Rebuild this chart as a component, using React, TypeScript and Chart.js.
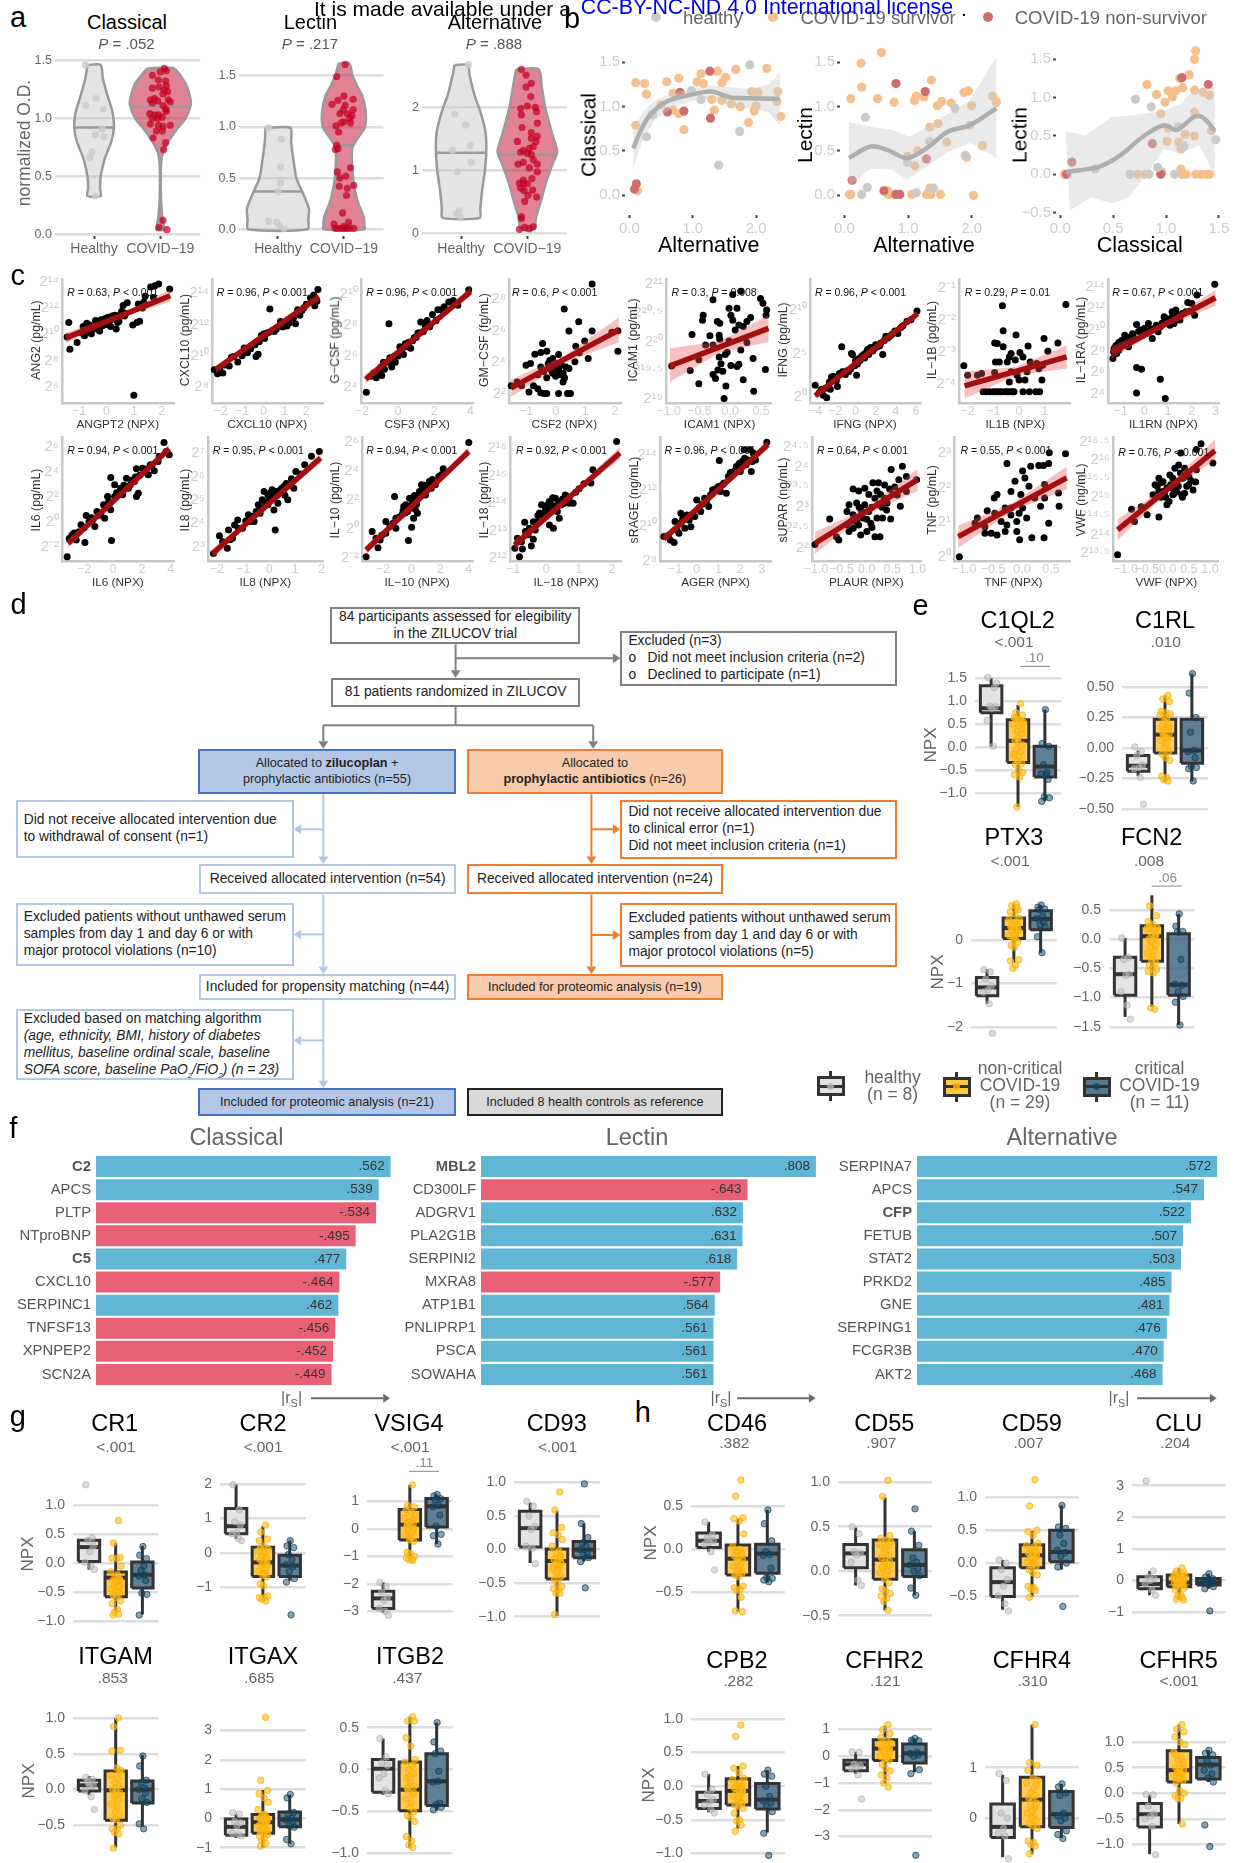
import React, { useEffect, useRef } from 'react';
import { Chart, registerables } from 'chart.js';
Chart.register(...registerables);

const FONT = '"Liberation Sans", Arial, sans-serif';
const GRID = '#dddddd';
const TICK = '#666666';
const LIGHT = '#cdcdcd';

/* ---------- panel a ---------- */
const A_CATS = ['Healthy', 'COVID−19'];
const A1_H = [[.87,1.46],[1.03,1.17],[.87,1.11],[1.14,1.08],[1.12,.91],[1.02,.86],[1.15,.84],[.97,.71],[.93,.66],[1.02,.33]];
const A1_C = [[2.06,1.43],[2,1.4],[2.09,1.41],[1.88,1.37],[1.97,1.33],[2.08,1.32],[1.88,1.26],[1.98,1.27],[2.09,1.28],[2.06,1.24],[2.11,1.23],[2.04,1.21],[1.91,1.17],[1.85,1.16],[1.96,1.15],[2.12,1.16],[2.15,1.14],[1.88,1.13],[2.04,1.11],[1.84,1.04],[1.91,1.03],[1.97,1.03],[2.08,1.08],[2.09,1.06],[1.88,1],[1.96,1],[2.03,1.01],[1.85,.95],[1.97,.94],[2.04,.93],[2.15,.94],[1.94,.89],[2.03,.89],[1.89,.83],[2.08,.79],[2.05,.73],[2.04,.12],[1.98,.06],[2.1,.04]];
const A2_H = [[.86,.99],[1.05,.88],[1.04,.61],[1.04,.45],[1,.37],[.86,.08],[.98,.07],[1.03,.03],[1.09,.01]];
const A2_C = [[2.02,1.61],[1.89,1.49],[1.91,1.26],[2,1.3],[2.14,1.27],[1.82,1.22],[2.02,1.21],[1.99,1.17],[2.14,1.17],[2.05,1.13],[2.12,1.11],[1.94,1.13],[2.09,1.08],[2,1.05],[2.1,1.04],[1.88,1.01],[1.96,1.04],[1.92,.95],[1.89,.82],[1.87,.78],[1.91,.79],[2.1,.6],[1.9,.56],[2.03,.52],[1.94,.5],[1.93,.42],[2.15,.43],[2.05,.4],[2.04,.33],[1.98,.16],[1.85,.05],[2.07,.07],[2,.03],[1.87,.01],[1.91,.01],[1.96,.01],[2,.01],[2.04,.01],[2.09,.01],[2.15,.01]];
const A3_H = [[1.11,2.67],[.9,1.89],[1.07,1.72],[1.14,1.4],[.87,1.32],[1.15,1.13],[.94,.98],[.97,.36],[.93,.32],[.99,.26]];
const A3_C = [[1.91,2.6],[1.98,2.51],[2.06,2.38],[1.98,2.32],[2.05,2.17],[1.9,1.98],[2,2.02],[2.12,2],[2.14,1.93],[1.91,1.88],[2.15,1.75],[1.92,1.68],[2.06,1.6],[2.15,1.54],[2.06,1.51],[1.85,1.46],[2.13,1.46],[2.09,1.38],[2.03,1.35],[1.94,1.32],[1.9,1.29],[2,1.27],[2.06,1.25],[2.09,1.17],[2.15,1.1],[1.94,1.13],[1.86,1.1],[2.03,1.04],[2.15,.98],[2.07,.87],[1.94,.85],[1.88,.8],[1.94,.79],[2,.79],[1.9,.72],[2.08,.69],[1.95,.68],[2.01,.61],[2.14,.58],[1.96,.51],[1.91,.27],[1.91,.24],[1.88,.07],[1.96,.1],[2.03,.08],[2.09,.11]];
// violin outlines: [value, half-width]
const A1_HV = [[1.46,.1],[1.35,.13],[1.2,.2],[1.05,.28],[.92,.3],[.8,.26],[.65,.16],[.5,.1],[.4,.09],[.33,.1]];
const A1_CV = [[1.43,.2],[1.3,.38],[1.2,.44],[1.12,.46],[1,.38],[.9,.24],[.8,.12],[.7,.035],[.6,.01],[.3,.01],[.15,.03],[.08,.05],[.04,.06]];
const A2_HV = [[.99,.19],[.85,.2],[.7,.23],[.5,.28],[.35,.38],[.2,.47],[.1,.46],[0,.45]];
const A2_CV = [[1.62,.08],[1.5,.13],[1.4,.2],[1.3,.28],[1.15,.33],[1,.32],[.9,.22],[.8,.13],[.7,.12],[.55,.13],[.4,.16],[.25,.22],[.12,.3],[.05,.31],[0,.31]];
const A3_HV = [[2.67,.1],[2.5,.13],[2.2,.2],[1.9,.3],[1.6,.37],[1.3,.38],[1,.36],[.7,.32],[.4,.29],[.25,.28]];
const A3_CV = [[2.6,.17],[2.3,.22],[2,.27],[1.6,.37],[1.3,.45],[1.1,.38],[.8,.28],[.5,.2],[.25,.13],[.07,.1]];
const A_MEDIANS = [[.92,.3,1.1,.45],[.37,.38,.82,.13],[1.28,.38,1.25,.45]];

/* ---------- panel b ---------- */
const B1_S = [[.1,1.27],[.24,1.26],[.27,1.14],[.59,1.28],[.78,1.32],[1.13,1.37],[1.39,1.4],[1.52,1.33],[1.68,1.42],[2.17,1.43],[.1,.79],[.5,1.02],[.69,1.15],[.69,.96],[.78,.92],[1.07,1.28],[1.17,1.26],[1.46,1.27],[1.34,.96],[1.3,1.08],[1.46,1.07],[1.61,1.03],[1.75,1],[1.93,1.17],[2.03,1.16],[2.34,1.17],[2.33,1.06],[2.39,.89],[1.88,.82],[1.97,.95],[2,1.01],[.86,.74],[.13,.05]];
const B1_H = [[.27,.66],[.98,1.18],[1.13,1.08],[1.74,.72],[1.9,1.47],[1.41,.34],[.37,.91]];
const B1_N = [[1.27,1.4],[.8,1.16],[.6,.94],[.86,.95],[1.28,.87],[.08,.07],[.11,.13]];
const B1_LINE = [[.06,.53],[.2,.76],[.33,.91],[.6,1.06],[.95,1.13],[1.29,1.17],[1.52,1.12],[1.63,1.1],[2.37,1.09]];
const B1_UP = [[.06,.72],[.2,.93],[.4,1.07],[.7,1.16],[1,1.2],[1.3,1.24],[1.6,1.22],[1.9,1.2],[2.2,1.25],[2.38,1.39]];
const B1_LO = [[.06,.3],[.2,.6],[.4,.85],[.7,1],[1,1.06],[1.3,1.1],[1.6,1],[1.9,.98],[2.2,.93],[2.38,.79]];
const B2_S = [[.1,1.09],[.26,1.49],[.27,1.22],[.58,1.61],[.52,1.09],[.78,1.05],[1.1,1.07],[1.13,1.12],[1.25,1.11],[1.37,1.3],[1.46,1.01],[1.53,1.06],[1.68,1.04],[1.88,1.16],[1.95,1.18],[2,1.01],[2.33,1.12],[2.39,1.05],[1.34,.77],[1.47,.81],[1.97,.79],[1.61,.6],[1.15,.5],[.99,.44],[1.11,.33],[1.92,.43],[2.17,.56],[.08,.01],[.1,.01],[.68,.05],[.69,.01],[.78,.01],[1.06,.01],[1.29,.01],[1.36,.01],[1.34,.08],[1.51,.01],[2.03,0]];
const B2_H = [[.27,.01],[.36,.09],[.33,.88],[.99,.37],[1.13,.03],[1.4,.08],[1.34,.61],[1.74,.98],[1.9,.45]];
const B2_N = [[.12,.17],[.81,1.26],[1.27,1.17],[.62,.05],[.87,.01],[1.29,.41],[.81,.01]];
const B2_LINE = [[.07,.42],[.41,.55],[.68,.51],[.98,.42],[1.29,.53],[1.63,.72],[1.97,.79],[2.39,.98]];
const B2_UP = [[.07,.83],[.41,.77],[.75,.74],[1.02,.66],[1.29,.77],[1.63,.92],[1.97,1.07],[2.39,1.56]];
const B2_LO = [[.07,.1],[.41,.3],[.75,.29],[.98,.17],[1.29,.32],[1.63,.49],[1.97,.59],[2.39,.42]];
const B3_S = [[.04,0],[.73,0],[.8,0],[.96,.03],[1.14,.07],[1.15,0],[1.19,0],[1.28,0],[1.33,0],[1.38,0],[1.41,0],[.82,1.17],[.91,1.04],[.95,.79],[.99,.94],[1.02,1.09],[1.06,1.01],[1.09,1.09],[1.13,1.25],[1.16,1.13],[1.22,1.3],[1.27,1.5],[1.28,1.61],[1.27,1.1],[1.35,1.07],[1.41,1.03],[1.27,.81],[1.43,.57],[1.27,.5],[1.18,.52],[1.12,.42],[1.01,.43],[1.14,.33],[1.02,.6]];
const B3_H = [[.71,.98],[.86,.88],[.92,.09],[.66,0],[.84,0],[1.08,0],[1.12,.62],[1.17,.37],[1.47,.45],[.33,.07]];
const B3_N = [[.11,.16],[.06,0],[.95,0],[.87,.4],[1.15,1.26],[1.4,1.17]];
const B3_LINE = [[.05,.03],[.37,.1],[.57,.25],[.78,.49],[.98,.64],[1.1,.58],[1.27,.75],[1.35,.74],[1.46,.57]];
const B3_UP = [[.05,.56],[.24,.51],[.49,.75],[.69,.77],[.98,.83],[1.14,.92],[1.27,1.1],[1.46,1.14]];
const B3_LO = [[.09,-.47],[.29,-.3],[.49,-.38],[.65,-.3],[.82,.01],[.98,.33],[1.14,.27],[1.31,.38],[1.46,0]];

/* ---------- panel c ---------- */
const ANG2 = [[-1.37,10.9],[-1.43,9.8],[-1.33,8.87],[-1.07,9.38],[-.9,10.1],[-.85,10.6],[-.8,9.9],[-.72,10.85],[-.65,10.3],[-.6,10.7],[-.55,10.05],[-.5,10.5],[-.4,11.05],[-.35,10.4],[-.3,10.8],[-.25,10.25],[-.2,11.1],[-.15,10.65],[-.1,10.9],[-.05,11.2],[0,10.75],[.05,11.3],[.1,11],[.15,10.6],[.2,11.4],[.25,11.15],[.3,11.45],[.35,10.4],[.4,10.9],[.45,11],[.5,11.5],[.55,11.75],[.6,12.2],[.65,11.4],[.7,11.6],[.75,12.4],[.99,5.37],[.95,10.7],[1.1,10.9],[1.15,12.3],[1.2,11],[1.25,12.15],[1.3,12],[1.35,12.45],[1.4,12.9],[1.6,13.6],[1.75,13.7],[1.89,13.82],[2.29,13.44],[1.7,12.8]];
const CXCL10 = [[-2.3,9.1],[-2.15,8.85],[-2.05,9.2],[-1.9,8.9],[-1.8,9.4],[-1.6,9.35],[-1.5,9.9],[-1.4,9.95],[-1.2,9.6],[-1,10],[-.9,10.5],[-.75,10.2],[-.6,10.45],[-.4,10.7],[-.35,9.95],[-.25,10.1],[-.2,10.9],[-.1,11.3],[0,11.4],[.05,11.1],[.15,11.45],[.25,11.5],[.3,13],[.4,11.6],[.5,11.55],[.6,11.7],[.8,12.2],[.9,11.85],[1,12],[1.1,11.9],[1.2,12.1],[1.4,12.4],[1.5,12.05],[1.6,12.95],[1.7,12.6],[1.8,12.9],[1.9,13.1],[2,13.3],[2.2,13.7],[2.35,13.9],[2.5,13.5],[2.55,14.25],[2.4,13.2]];
const CSF3 = [[-1.75,3.65],[-1.5,4.7],[-1.35,4.9],[-1.2,4.6],[-1.05,5],[-.95,5.3],[-.8,5.6],[-.75,5.15],[-.6,5.6],[-.5,8.1],[-.45,5.9],[-.35,5.3],[-.3,5.7],[-.2,6],[-.15,5.6],[0,6],[.1,6.6],[.2,6.4],[.3,6.1],[.4,6.8],[.5,6.6],[.6,6.9],[.7,6.5],[.8,7],[.9,7.2],[1,7.2],[1.2,7.5],[1.25,8.2],[1.4,7.6],[1.5,8],[1.6,8.3],[1.75,7.9],[1.9,8.7],[2.1,8.3],[2.2,9],[2.4,9],[2.55,9.2],[2.8,9.5],[3.05,9.6],[3.3,9.3],[3.9,10.3],[-.9,4.75],[1.1,7.5]];
const CSF2 = [[1.23,8.98],[.29,7.38],[.78,6.57],[.45,5.98],[1.23,5.98],[-.44,5.19],[.98,5.34],[.68,5.02],[1.1,4.23],[-.7,4.51],[-1,3.81],[-.85,3.91],[-.5,4.62],[-.3,4.7],[-.1,4.23],[.1,4.49],[.45,3.6],[.65,4.02],[-1.5,2.5],[-1.3,2.74],[-1.15,2.5],[-.9,2.1],[-.75,2.5],[-.6,2.3],[-.5,2.06],[-.4,2],[-.3,2],[.1,2],[.4,2],[.5,2],[.25,2.74],[-.6,3.2],[-.5,3.7],[-.4,3.4],[-.3,3],[-.25,3.9],[-.2,4.1],[-.15,3.5],[-.1,3.3],[-.05,3.7],[0,3.1],[.05,3.9],[.1,3.5],[.15,3.2],[.2,3.8],[.25,3.3],[.3,3],[.35,3.7],[.8,4.6],[1.9,5.9],[2.1,6],[2.1,4.7]];
const ICAM1 = [[.17,20.88],[-.28,20.73],[.04,20.82],[.49,20.75],[.53,20.67],[-.02,20.58],[.11,20.58],[.59,20.55],[.58,20.46],[-.44,20.46],[-.45,20.37],[.01,20.46],[.33,20.42],[-.21,20.35],[-.17,20.32],[.04,20.37],[.27,20.35],[.14,20.29],[.21,20.26],[-.62,20.12],[-.33,20.1],[-.18,20.11],[.08,20.2],[-.17,20.04],[-.02,20.01],[.27,19.98],[-.28,19.94],[-.4,19.94],[.17,19.85],[-.05,19.81],[-.18,19.73],[-.51,19.68],[-.15,19.61],[.01,19.58],[.14,19.6],[.37,19.7],[-.95,19.57],[-.65,19.49],[-.2,19.5],[-.12,19.48],[.57,19.51],[-.28,19.42],[-.24,19.35],[.21,19.33],[-.51,19.26],[-.07,19.22],[.38,19.13],[-.1,19],[-.08,19.77],[.11,19.56]];
const IFNG = [[-4,1.35],[-3.6,.5],[-3.2,.2],[-2.86,-.08],[-3,1],[-2.8,1.1],[-2.5,.9],[-2.4,2.3],[-2.2,2.4],[-2,2],[-1.8,1.2],[-1.6,2.7],[-1.3,2.9],[-1,2.6],[-.9,3],[-.5,3.2],[-.1,3.6],[.1,2.5],[.2,3.8],[-.4,5],[0,4.2],[-.3,4.9],[.3,4.4],[.6,4.7],[.9,4.5],[1,5],[1.2,5.5],[1.4,5.3],[1.5,5.7],[1.7,5.3],[1.9,5.6],[2,6],[2.2,5.8],[2.4,5.9],[2.7,4.9],[3,7],[3.2,6.8],[3.6,7.2],[3.9,7.6],[4.2,7.3],[4.5,8],[5.1,8.7],[5.5,8.9],[6.1,9.9],[-1.37,5.77],[-3.4,.9],[-2.6,1.7],[-1.9,1.9],[-.7,2.9],[.45,4.2],[.8,4.9],[1.1,5.2],[1.6,5.4],[2.5,6.2],[2.85,6.5],[3.4,7],[1.3,4.9],[4.7,8.2]];
const IL1B = [[-.65,-1.55],[1.82,-1.51],[-.62,-2.34],[-.12,-2.47],[.97,-2.58],[1.51,-2.72],[-.95,-2.72],[-.85,-2.74],[-.62,-2.84],[.35,-2.82],[1.12,-2.98],[-.31,-3.05],[.03,-3.02],[-.38,-3.16],[.15,-3.16],[-.92,-3.32],[-.77,-3.32],[-.46,-3.32],[-.15,-3.26],[.43,-3.32],[.69,-3.37],[.92,-3.42],[-2.15,-3.44],[-2,-3.74],[-1.46,-3.68],[-1.62,-3.74],[-.95,-3.65],[-.31,-3.63],[-.08,-3.74],[.31,-3.63],[.77,-3.53],[0,-3.89],[.23,-3.89],[-.38,-3.95],[.89,-3.89],[-1.4,-4.26],[-1.3,-4.26],[-1.15,-4.26],[-1,-4.26],[-.9,-4.26],[-.8,-4.26],[-.7,-4.26],[-.55,-4.26],[-.45,-4.26],[-.35,-4.26],[-.25,-4.26],[-.2,-4.26],[.15,-4.26],[.4,-4.26],[.65,-4.26],[.8,-4.26]];
const IL1RN = [[2.97,14.22],[2.22,13.22],[1.83,12.53],[2,12.44],[2.12,11.34],[-.33,6.44],[-.12,6.28],[.67,5.34],[-.33,4.06],[.88,3.53],[-1.33,7.28],[-1.28,8.22],[-1.08,8.78],[-1.17,7.75],[-.83,9.47],[-.58,9.31],[-.67,8.38],[-.33,10.47],[-.17,9.94],[.17,10.56],[.08,9.63],[.42,10.09],[.67,10.25],[.83,11.19],[1,10.88],[1.25,10.56],[1.33,11.81],[1.75,11.66],[.33,9.16],[-.42,9.16],[-.92,8.53],[.58,9.78],[1.08,10.4],[1.5,10.88],[-.08,9.47],[.92,11.03],[1.17,11.66],[-1.08,8.06],[-1.2,8.5],[-.95,9],[-.75,9.1],[-.5,9.6],[-.25,9.8],[0,10.1],[.25,10],[.5,10.4],[.75,10.6],[1.15,11.1],[1.4,11.3],[1.6,11.5],[1.9,11.7],[-1.3,7.9]];
const IL6 = [[-3.18,-2.8],[-3.04,-1.34],[-1.95,-1.66],[-.11,-1.5],[-2.55,-1.46],[-2.22,-.26],[-1.86,.48],[-1.26,-.4],[-1.12,.8],[-.66,1.34],[-.58,.26],[-.16,.94],[-.38,2],[-.16,3.52],[.11,2.94],[.52,2.66],[.38,2.14],[.93,3.46],[1.2,2.94],[1.75,2.26],[1.62,2],[1.62,4.22],[2.03,4.26],[2.44,3.74],[2.85,4.06],[3.12,4.8],[3.53,6.32],[3.89,5.34],[-2.85,-1.06],[-2.36,-.8],[-1.67,0],[-.85,.66],[-.3,1.6],[.66,2.14],[1.07,2.66],[1.48,3.2],[2.16,4],[2.58,4.54],[3.67,5.6],[-1.4,.14],[.11,2],[-2.7,-.9],[-2,-.5],[-1.5,.3],[-.95,.5],[-.5,1.1],[-.2,1.5],[.25,2.3],[.75,2.9],[1.3,3.3],[1.55,3.55],[1.85,3.7],[2.3,4.2],[2.7,4.5],[3.2,5.2],[.5,2.4]];
const IL8 = [[-2.14,2.71],[-1.91,3.47],[-1.61,2.93],[-1.56,3.71],[-1.41,3.36],[-1.21,4.14],[-1.03,3.79],[-.8,4.36],[-.58,4.07],[-.35,4.43],[-.27,5],[-.05,5.21],[.18,4.57],[.23,3.71],[.33,4.86],[.48,5.5],[.71,5],[.94,5.5],[1.02,6.21],[1.36,6.5],[1.62,6.86],[1.92,7.07],[-.2,5.36],[-.42,4.79],[.11,5.43],[.26,5.36],[.56,5.57],[.18,5.07],[-.73,4.07],[-1.18,3.79],[-.05,4.79],[.79,5.64],[-1.33,3.93],[-1.79,3.21],[-.9,4.1],[-.65,4.3],[-.5,4.5],[-.15,4.9],[0,5],[.05,5.3],[.3,5.2],[.4,5.4],[.6,5.2],[.65,5.7],[-.3,4.65],[-1.5,3.3],[1.2,6.1],[.85,5.9]];
const IL10 = [[-3.18,-1.89],[-2.76,-.17],[-2.35,-1.27],[-1.8,.51],[-1.19,2.23],[-.22,-.79],[0,.13],[-1.1,.06],[-.41,1.66],[.28,2],[.69,3.03],[1.38,2.8],[2.21,4.13],[4,5.93],[-2.49,-.63],[-2.07,-.4],[-1.52,.17],[-.69,.97],[-.28,1.2],[.14,1.66],[.41,1.09],[-.14,2.11],[.55,2.57],[.97,2.34],[1.24,3.26],[1.66,3.03],[2.07,3.71],[-1.1,.74],[.14,.74],[-.55,1.54],[.83,2.8],[-1.8,-.29],[-2.2,-.75],[-1.3,.4],[-.9,.8],[-.45,1.1],[-.1,1.45],[.05,1.75],[.2,2.3],[.35,1.7],[.5,2.2],[.7,2.35],[.9,3],[1.1,2.9],[1.45,3.4],[1.9,3.6],[-.6,1.25],[.25,1.35]];
const IL18 = [[-.95,12.36],[-.81,12.06],[-.72,12.34],[-.45,12.45],[-.39,12.69],[-.87,12.73],[-.63,12.97],[-.65,13.31],[-.39,13.33],[-.2,13.64],[-.14,13.94],[.1,14.06],[.22,13.09],[.1,13.21],[.4,13.45],[-.08,13.45],[-.27,13.33],[.28,14.18],[.58,14.3],[.82,14],[1,14.52],[1.36,14.73],[1.42,15.21],[2.14,16.24],[.46,13.94],[.16,13.7],[.34,13.7],[-.51,13.09],[-.33,13.03],[.7,14.18],[.04,13.94],[-.02,13.76],[.7,14],[-.25,13.55],[-.1,13.6],[0,13.55],[.05,13.8],[.15,13.95],[.2,14.2],[.25,13.9],[.3,13.85],[.38,14.05],[.5,14.15],[.55,14],[.62,14.25],[-.55,12.85],[-.75,12.6],[.9,14.4],[1.15,14.7]];
const AGER = [[-1.51,9.38],[-1.22,9.19],[-1.04,9.04],[-1,10.23],[-.73,10.7],[-.55,9.85],[-.27,9.94],[0,11.45],[.18,10.79],[.55,11.08],[.73,12.02],[1.04,13.68],[1.36,11.83],[1.45,12.77],[1.82,13.34],[2.09,13.62],[2.18,14.28],[2.51,13.06],[2.45,14.28],[3.22,14.7],[-.82,9.57],[-.64,10.42],[-.45,10.6],[-.09,10.51],[.36,11.55],[.91,12.11],[1.18,12.3],[1.64,12.87],[2,13.06],[2.27,13.43],[.64,11.74],[1.09,11.92],[-.91,9.75],[2.55,13.62],[-1.3,9.45],[-.7,10.2],[-.35,10.3],[-.2,10.6],[.1,11],[.25,11.2],[.45,11.4],[.75,11.9],[1,12.2],[1.25,12.4],[1.55,13],[1.75,13.1],[1.95,13.5],[2.2,13.8],[2.35,13.7],[2.6,14.1],[2.7,13.7]];
const PLAUR = [[-1.02,2.08],[-.73,2.71],[-.6,2.27],[-.55,2.19],[-.35,3.06],[-.39,2.89],[-.35,2.4],[-.27,3.45],[-.16,3.4],[-.12,2.31],[.16,2.27],[.26,2.27],[-.04,3.47],[.12,3.6],[.23,3.6],[.35,3.55],[.48,3.93],[.7,4.01],[.63,3.68],[.78,3.76],[.98,3.68],[.78,3.39],[.66,3.02],[.47,2.71],[-.2,2.64],[-.08,2.73],[.04,2.89],[.16,3.22],[.27,3.31],[-.27,2.81],[-.2,3.1],[-.04,3.06],[.08,2.6],[.23,3.06],[.39,2.93],[.2,2.73],[.31,2.73],[-.27,2.48],[.04,3.31],[-.16,2.56],[0,2.4],[.35,3.22],[.51,3.31],[-.39,2.56],[-.1,2.9],[0,2.7],[.1,3],[.2,3.4],[.3,3],[.4,3.1],[.55,3.5],[.6,3.3],[-.3,2.65],[-.15,3],[.45,3.45],[.1,2.5]];
const TNF = [[-1.08,0],[-.77,1.12],[-.81,.97],[-.6,1.33],[-.64,.87],[-.64,.68],[-.53,.68],[-.43,1.8],[-.48,1.7],[-.43,.63],[-.29,.73],[-.19,1.89],[-.26,2.7],[-.12,2.18],[.01,2.48],[.05,2.28],[.15,2.62],[.29,2.64],[.37,2.64],[.46,2.7],[.47,3.01],[.75,2.98],[-.04,.49],[.17,.55],[.38,.55],[.46,.97],[.64,1.46],[.63,1.84],[.39,2.09],[.12,2.04],[.32,1.46],[.08,1.12],[-.09,1.02],[-.19,1.21],[-.36,1.02],[-.09,.73],[-.29,1.41],[-.02,1.8],[.22,1.7],[.01,1.41],[-.19,1.41],[-.05,1.26],[.39,1.7],[-.47,1.26],[-.26,.92]];
const VWF = [[-1.19,13.46],[-.86,14.68],[-.79,14.35],[-.63,14.75],[-.49,14.53],[-.21,14.47],[-.35,15.07],[-.3,15.34],[-.21,15.51],[-.11,15.42],[-.02,14.8],[.03,14.89],[.12,15.07],[-.07,15.16],[-.16,15],[.17,15.78],[.26,15.87],[.31,16.19],[.4,15.78],[.33,15.07],[.4,15.11],[.68,15.74],[.66,15.41],[.79,16.44],[.68,16.28],[1.07,15.92],[.21,15.42],[.07,15.34],[-.02,15.25],[.5,15.34],[.36,15.51],[.12,15.51],[-.11,15.16],[.21,15.16],[.5,15.56],[-.21,15.16],[-.05,15],[.05,15.6],[.1,15.25],[.15,15.1],[.25,15.3],[.3,15.65],[.45,15.3],[.55,15.45],[-.15,15.4],[-.25,15.3],[.35,15],[.6,15.2]];

// [x, lower, upper] confidence band
const C_BANDS = {
  ANG2:[[-1.47,9.33,10.13],[.42,11.18,11.48],[2.31,12.48,13.38]], CXCL10:[[-2.22,8.88,9.38],[.19,11.35,11.55],[2.6,13.53,14.03]],
  CSF3:[[-1.79,4.2,4.8],[1.1,7.23,7.43],[4,9.87,10.47]], CSF2:[[-1.5,1.8,2.9],[.31,3.98,4.42],[2.13,5.25,6.85]],
  ICAM1:[[-.98,19.29,19.88],[-.18,19.8,20],[.62,19.99,20.46]], IFNG:[[-4,-.18,.42],[1.08,4.76,4.96],[6.16,9.3,9.9]],
  IL1B:[[-2.12,-4.47,-3.63],[-.13,-3.75,-3.48],[1.85,-3.53,-2.79]], IL1RN:[[-1.38,7.3,8.4],[.81,10.2,10.6],[3,12.2,13.7]],
  IL6:[[-3.12,-2.08,-1.4],[.39,1.92,2.16],[3.89,5.48,6.16]], IL8:[[-2.17,2.5,2.9],[-.1,4.67,4.83],[1.97,6.58,7]],
  IL10:[[-3.18,-1.75,-1.13],[.41,1.82,2.06],[4,5,5.62]], IL18:[[-.96,12.28,12.68],[.64,14.07,14.23],[2.24,15.6,16.05]],
  AGER:[[-1.51,9,9.5],[.88,11.83,11.99],[3.27,14.32,14.82]], PLAUR:[[-1.02,1.85,2.38],[-.01,2.82,2.98],[1,3.4,3.95]],
  TNF:[[-1.1,.25,.9],[-.17,1.31,1.55],[.77,1.95,2.6]], VWF:[[-1.19,13.85,14.42],[-.03,15.11,15.27],[1.12,16,16.55]],
};
const C_LINES = {
  ANG2:[[-1.47,9.73],[2.31,12.93]], CXCL10:[[-2.22,9.13],[2.6,13.78]], CSF3:[[-1.79,4.5],[4,10.17]], CSF2:[[-1.5,2.36],[2.13,6.04]],
  ICAM1:[[-.98,19.57],[.62,20.23]], IFNG:[[-4,.12],[6.16,9.6]], IL1B:[[-2.12,-4.07],[1.85,-3.16]], IL1RN:[[-1.38,7.84],[3,12.97]],
  IL6:[[-3.12,-1.74],[3.89,5.82]], IL8:[[-2.17,2.71],[1.97,6.79]], IL10:[[-3.18,-1.43],[4,5.31]], IL18:[[-.96,12.48],[2.24,15.82]],
  AGER:[[-1.51,9.25],[3.27,14.57]], PLAUR:[[-1.02,2.11],[1,3.68]], TNF:[[-1.1,.58],[.77,2.28]], VWF:[[-1.19,14.13],[1.12,16.25]],
};
const RT = 279, RB = 402.7, R2T = 437.3, R2B = 561;
const C_PANELS = [
  {k:'ANG2',pts:ANG2,yl:'ANG2 (pg/mL)',xl:'ANGPT2 (NPX)',r:'0.63',p:'< 0.001',L:62,R:174,T:RT,B:RB,xc:[-1,79,2,161.7],yc:[14,281.7,6,386.7],xt:[-1,0,1,2],yt:[14,12,10,8,6],rx:67.2,yx:35.6,xx:117.8},
  {k:'CXCL10',pts:CXCL10,yl:'CXCL10 (pg/mL)',xl:'CXCL10 (NPX)',r:'0.96',p:'< 0.001',L:211.5,R:323.4,T:RT,B:RB,xc:[-2,220.2,2,305.7],yc:[14,293.3,8,386.7],xt:[-2,-1,0,1,2],yt:[14,12,10,8],rx:216.7,yx:184.7,xx:267.3},
  {k:'CSF3',pts:CSF3,yl:'G−CSF (pg/mL)',xl:'CSF3 (NPX)',r:'0.96',p:'< 0.001',L:361,R:473,T:RT,B:RB,xc:[-2,361.8,4,470.5],yc:[10,294.3,4,386.7],xt:[-2,0,2,4],yt:[10,8,6,4],rx:366.2,yx:334.5,xx:417.2},
  {k:'CSF2',pts:CSF2,yl:'GM−CSF (fg/mL)',xl:'CSF2 (NPX)',r:'0.6',p:'< 0.001',L:509,R:621,T:RT,B:RB,xc:[-1,526,2,614.9],yc:[8,299.3,2,393.3],xt:[-1,0,1,2],yt:[8,6,4,2],rx:512,yx:483.6,xx:564.3},
  {k:'ICAM1',pts:ICAM1,yl:'ICAM1 (pg/mL)',xl:'ICAM1 (NPX)',r:'0.3',p:'= 0.008',L:666,R:771.4,T:RT,B:RB,xc:[-1,668.6,.5,761.1],yc:[21,284.3,19,398.3],xt:[-1,-.5,0,.5],xd:1,yt:[21,20.5,20,19.5,19],rx:671.4,yx:632.6,xx:719.6},
  {k:'IFNG',pts:IFNG,yl:'IFNG (pg/mL)',xl:'IFNG (NPX)',r:'0.96',p:'< 0.001',L:809.7,R:921,T:RT,B:RB,xc:[-4,814.9,6,915.7],yc:[10,310,0,396.7],xt:[-4,-2,0,2,4,6],yt:[10,5,0],rx:814.9,yx:782.9,xx:865},
  {k:'IL1B',pts:IL1B,yl:'IL−1B (pg/mL)',xl:'IL1B (NPX)',r:'0.29',p:'= 0.01',L:959.2,R:1070.7,T:RT,B:RB,xc:[-2,967.9,1,1045],yc:[-1,288.3,-4,383.3],xt:[-2,-1,0,1],yt:[-1,-2,-3,-4],rx:964.8,yx:932.3,xx:1015.4},
  {k:'IL1RN',pts:IL1RN,yl:'IL−1RA (pg/mL)',xl:'IL1RN (NPX)',r:'0.67',p:'< 0.001',L:1107.5,R:1219,T:RT,B:RB,xc:[-1,1120.2,3,1215],yc:[14,286.7,4,393.3],xt:[-1,0,1,2,3],yt:[14,12,10,8,6,4],rx:1112.2,yx:1080.6,xx:1163.3},
  {k:'IL6',pts:IL6,yl:'IL6 (pg/mL)',xl:'IL6 (NPX)',r:'0.94',p:'< 0.001',L:62,R:174,T:R2T,B:R2B,xc:[-2,84.2,4,170.8],yc:[6,446.7,-2,546.7],xt:[-2,0,2,4],yt:[6,4,2,0,-2],rx:67.2,yx:35.6,xx:117.8},
  {k:'IL8',pts:IL8,yl:'IL8 (pg/mL)',xl:'IL8 (NPX)',r:'0.95',p:'< 0.001',L:207.6,R:323.4,T:R2T,B:R2B,xc:[-2,216.7,2,321],yc:[7,453.3,3,546.7],xt:[-2,-1,0,1,2],yt:[7,6,5,4,3],rx:212.7,yx:184.7,xx:265.3},
  {k:'IL10',pts:IL10,yl:'IL−10 (pg/mL)',xl:'IL−10 (NPX)',r:'0.94',p:'< 0.001',L:361.8,R:473,T:R2T,B:R2B,xc:[-2,382.8,4,468.6],yc:[6,441.7,-2,558.3],xt:[-2,0,2,4],yt:[6,4,2,0,-2],rx:366.2,yx:335.3,xx:417.2},
  {k:'IL18',pts:IL18,yl:'IL−18 (pg/mL)',xl:'IL−18 (NPX)',r:'0.92',p:'< 0.001',L:510,R:621,T:R2T,B:R2B,xc:[-1,513.2,2,612],yc:[16,448.3,12,558.3],xt:[-1,0,1,2],yt:[16,15,14,13,12],rx:516,yx:484.4,xx:566.2},
  {k:'AGER',pts:AGER,yl:'sRAGE (ng/mL)',xl:'AGER (NPX)',r:'0.96',p:'< 0.001',L:660.3,R:771.4,T:R2T,B:R2B,xc:[-1,675.3,3,762.3],yc:[14,455,8,561],xt:[-1,0,1,2,3],yt:[14,12,10,8],rx:664.6,yx:633.8,xx:715.6},
  {k:'PLAUR',pts:PLAUR,yl:'sUPAR (ng/mL)',xl:'PLAUR (NPX)',r:'0.64',p:'< 0.001',L:811.7,R:921,T:R2T,B:R2B,xc:[-1,815.7,1,917.3],yc:[4.5,446.7,2,547.7],xt:[-1,-.5,0,.5,1],xd:1,yt:[4.5,4,3.5,3,2.5,2],rx:816.9,yx:783.3,xx:866.3},
  {k:'TNF',pts:TNF,yl:'TNF (pg/mL)',xl:'TNF (NPX)',r:'0.55',p:'< 0.001',L:954,R:1070.7,T:R2T,B:R2B,xc:[-1,964,.5,1051],yc:[3,453.3,0,556.7],xt:[-1,-.5,0,.5],xd:1,yt:[3,2,1,0],rx:960.4,yx:932.3,xx:1013.4},
  {k:'VWF',pts:VWF,yl:'VWF (ng/mL)',xl:'VWF (NPX)',r:'0.76',p:'< 0.001',L:1113.4,R:1219,T:R2T,B:R2B,xc:[-1,1126,1,1210.3],yc:[16.5,441.7,13.5,553.3],xt:[-1,-.5,0,.5,1],xd:1,yt:[16.5,16,15.5,15,14.5,14,13.5],rx:1118.2,yx:1080.6,xx:1166.4},
];

/* ---------- panels e, g, h: [q1, median, q3, lower whisker, upper whisker] per group ---------- */
const JIT_H = [-.12,.12,-.05,.16,.03,-.15,.08,.2];
const JIT_N = [.1,-.08,.17,-.14,.04,.2,-.18,.07,-.03,.13,-.11,.01,.16,-.06,.09,-.16,.05,-.01,.14,-.1,.02,.18,-.13,.06,-.04,.11,-.09,.15,.0];
const JIT_C = [.02,-.1,.15,-.05,.08,-.14,.12,-.02,.17,-.12,.05];

const C1QL2_BOX = [[.75,.85,1.34,.01,1.5],[-.33,.14,.6,-1.3,.92],[-.65,-.42,.02,-1.18,.82]];
const C1QL2_PTS = [[1.52,1.3,.9,.88,.85,.58,.02,1.4],[.95,.75,.7,.65,.6,.55,.5,.45,.35,.3,.15,.1,.05,-.05,-.1,-.15,-.2,-.3,-.35,-.38,-.5,-.55,-.6,-.65,-1.3,.58,.62,.4,.2],[.82,.08,.02,-.38,-.55,-.58,-.7,-1.08,-1.1,-1.18,-.6]];
const C1RL_BOX = [[-.19,-.145,-.06,-.23,-.02],[-.04,.11,.235,-.275,.43],[-.125,-.02,.235,-.275,.61]];
const C1RL_PTS = [[.01,-.03,-.06,-.14,-.16,-.17,-.24,-.46],[.43,.4,.38,.3,.29,.28,.27,.25,.22,.2,.18,.15,.12,.1,.08,.06,.03,0,-.03,-.05,-.08,-.1,-.23,-.24,-.26,-.27,.13,.17,.09],[.61,.45,.25,.13,-.02,-.03,-.08,-.15,-.16,-.17,-.27]];
const PTX3_BOX = [[-1.28,-1.09,-.86,-1.47,-.67],[.04,.28,.51,-.52,.84],[.24,.49,.68,-.29,.81]];
const PTX3_PTS = [[-.68,-.73,-.9,-1.05,-1.15,-1.2,-1.47,-2.15],[.84,.8,.7,.65,.6,.5,.48,.42,.38,.35,.3,.28,.25,.2,.15,.1,.05,.02,-.05,-.12,-.16,-.45,-.48,-.58,-.65,.75,.32,.22,.12],[.81,.76,.72,.7,.55,.5,.42,.35,.3,.08,-.29]];
const FCN2_BOX = [[-.96,-.6,-.31,-1.33,.02],[-.38,.05,.23,-1.16,.75],[-.96,-.78,.09,-1.47,.43]];
const FCN2_PTS = [[.02,-.31,-.35,-.6,-.62,-.9,-1.13,-1.37],[.75,.57,.4,.3,.25,.2,.18,.15,.1,.05,0,-.05,-.1,-.15,-.2,-.25,-.3,-.35,-.4,-.45,-.5,-.52,-.55,-.58,-1.18,-1.2,.22,.08,-.02],[.43,.22,.13,.12,-.35,-.77,-.79,-.9,-.98,-1.08,-1.47]];
const CR1_BOX = [[.03,.28,.4,-.11,.44],[-.58,-.25,-.15,-.83,.35],[-.43,-.2,.02,-.89,.3]];
const CR1_PTS = [[1.36,.44,.4,.3,.2,.02,-.05,-.11],[.74,.35,.1,.09,.08,-.05,-.15,-.2,-.25,-.3,-.3,-.35,-.4,-.4,-.42,-.45,-.5,-.5,-.52,-.55,-.6,-.65,-.7,-.8,-.85,-.88,-.9,-.28,-.32],[.29,.14,.08,-.12,-.2,-.22,-.3,-.52,-.54,-.9,-.05]];
const CR2_BOX = [[.55,.77,1.28,.4,1.97],[-.69,-.28,.16,-1.37,.77],[-.69,-.37,-.07,-.81,.35]];
const CR2_PTS = [[1.97,1.25,.9,.8,.58,.55,.42,.35],[.8,.6,.4,.35,.2,.1,.05,0,-.1,-.15,-.2,-.3,-.35,-.4,-.5,-.55,-.6,-.65,-.7,-.9,-.95,-1.25,-1.3,-1.3,-1.35,-1.4,.15,-.25,-.45],[.35,.2,.15,-.05,-.2,-.35,-.4,-.55,-.75,-.85,-1.8]];
const VSIG4_BOX = [[-2.9,-2.53,-2.27,-3.05,-1.95],[-.41,.15,.7,-1.13,1.6],[.07,.82,1.1,-.55,1.25]];
const VSIG4_PTS = [[-1.95,-2.1,-2.3,-2.5,-2.6,-2.9,-3,-3.15],[1.6,.85,.8,.7,.6,.5,.4,.3,.25,.2,.1,.05,0,-.05,-.1,-.2,-.3,-.4,-.45,-.85,-.9,-1,-1.05,-1.1,-1.12,-1.15,.15,.35,-.15],[1.25,1.2,1.1,1.05,.85,.8,.5,.1,-.2,-.25,-.55]];
const CD93_BOX = [[.04,.32,.57,-.2,.7],[-.44,-.17,.01,-.99,.58],[-.12,0,.12,-.18,.39]];
const CD93_PTS = [[.72,.65,.5,.35,.3,.05,.02,-.21],[.86,.59,.33,.25,.22,.15,.05,-.02,-.05,-.1,-.15,-.18,-.2,-.22,-.25,-.28,-.3,-.35,-.4,-.45,-.5,-.55,-.58,-.6,-.65,-.65,-.97,-.12,-.32],[.98,.39,.18,.1,.05,0,-.05,-.08,-.12,-.18,-.57]];
const ITGAM_BOX = [[-.02,.06,.13,-.08,.19],[-.43,-.01,.26,-.81,1],[-.19,0,.12,-.52,.48]];
const ITGAM_PTS = [[.17,.14,.1,.06,.05,-.02,-.1,-.28],[1,.88,.55,.54,.3,.27,.2,.15,.1,.05,0,-.02,-.05,-.1,-.15,-.2,-.25,-.3,-.35,-.4,-.42,-.5,-.55,-.55,-.6,-.62,-.82,.25,-.08],[.47,.33,.13,.1,.02,0,-.05,-.13,-.18,-.48,-.55]];
const ITGAX_BOX = [[-.58,-.29,-.02,-.67,.15],[-.51,-.13,.13,-1,.97],[-.29,-.04,.22,-.87,.8]];
const ITGAX_PTS = [[.2,.15,-.1,-.15,-.25,-.5,-.55,-.6],[3.45,1.3,.95,.85,.7,.55,.3,.15,.1,.05,0,-.05,-.1,-.15,-.2,-.25,-.3,-.35,-.4,-.45,-.5,-.55,-.6,-.65,-.75,-.85,-.95,-.05,-.02],[.82,.7,.2,.15,0,-.05,-.1,-.25,-.3,-.72,-.87]];
const ITGB2_BOX = [[-.27,.01,.12,-.3,.37],[-.49,-.24,.09,-.93,.63],[-.43,-.14,.19,-.49,.56]];
const ITGB2_PTS = [[.37,.15,.08,.05,-.05,-.1,-.25,-.29],[.63,.58,.58,.38,.28,.12,.09,.05,0,-.05,-.1,-.15,-.2,-.25,-.3,-.35,-.4,-.45,-.5,-.55,-.57,-.62,-.8,-.85,-.9,-.93,-.22,-.28,-.08],[.56,.33,.22,.19,-.02,-.15,-.4,-.42,-.45,-.48,-.14]];
const CD46_BOX = [[.02,.1,.19,-.03,.32],[-.3,-.11,.05,-.73,.36],[-.28,-.05,.06,-.39,.46]];
const CD46_PTS = [[.32,.17,.13,.1,.08,.06,-.03,-.24],[.81,.62,.37,.36,.33,.18,.03,0,-.03,-.06,-.08,-.1,-.12,-.15,-.18,-.2,-.22,-.25,-.28,-.3,-.32,-.43,-.45,-.47,-.48,-.56,-.72,-.73,-.14],[.46,.3,.1,-.03,-.06,-.07,-.22,-.33,-.34,-.36,-.38]];
const CD55_BOX = [[.04,.2,.3,-.16,.49],[-.09,.13,.35,-.44,.83],[-.06,.07,.24,-.27,.45]];
const CD55_PTS = [[.5,.42,.22,.2,.18,.1,-.1,-.16],[1.02,.84,.4,.37,.35,.33,.3,.28,.22,.18,.15,.1,.07,.03,0,-.02,-.05,-.09,-.13,-.2,-.22,-.25,-.28,-.3,-.34,-.44,.05,.12,.26],[.7,.45,.29,.15,.1,.07,.03,0,-.05,-.19,-.27]];
const CD59_BOX = [[-.51,-.29,-.07,-.71,.05],[-.07,.12,.28,-.51,.49],[.02,.17,.5,-.1,.88]];
const CD59_PTS = [[.05,0,-.1,-.25,-.35,-.5,-.62,-.73],[1.27,.87,.5,.48,.42,.3,.27,.25,.2,.18,.15,.12,.1,.08,.05,.02,0,-.03,-.05,-.1,-.15,-.18,-.35,-.37,-.4,-.42,-.52,.14,.07],[.88,.55,.53,.43,.3,.2,.16,.1,0,-.06,-.66]];
const CLU_BOX = [[-.27,-.12,.11,-.47,.29],[-.2,-.07,.17,-.62,.39],[-.15,-.07,.06,-.27,.21]];
const CLU_PTS = [[3.15,.3,.12,.05,0,-.1,-.3,-.47],[.39,.3,.25,.2,.18,.15,.12,.1,.08,.05,.03,0,-.02,-.04,-.06,-.08,-.1,-.12,-.15,-.18,-.2,-.25,-.3,-.45,-.5,-.55,-.6,-.62,.02],[.21,.1,.05,0,-.02,-.05,-.1,-.12,-.2,-.27,-.97]];
const CPB2_BOX = [[-.33,-.22,-.09,-.39,.18],[-.28,-.07,.11,-.63,.3],[-.34,-.2,.04,-.69,.24]];
const CPB2_PTS = [[.18,-.05,-.12,-.2,-.23,-.28,-.35,-.4],[.91,.74,.3,.27,.2,.12,.1,.05,.02,0,-.03,-.05,-.08,-.1,-.12,-.15,-.18,-.2,-.25,-.28,-.3,-.33,-.4,-.5,-.52,-.58,-.67,-.06,-.16],[.24,.18,.15,0,-.15,-.22,-.25,-.3,-.38,-.7,-1.03]];
const CFHR2_BOX = [[-.54,-.3,-.15,-.66,.17],[-.16,.29,.62,-1.02,1.15],[-.25,.11,.46,-.6,.65]];
const CFHR2_PTS = [[.17,.15,-.3,-.35,-.4,-.45,-.7,-1.6],[1.18,1,.85,.7,.6,.5,.45,.4,.35,.3,.25,.2,.15,.1,.05,0,-.05,-.1,-.15,-.3,-.45,-.55,-.7,-.8,-1,-1.15,.32,.28,.12],[.67,.6,.58,.55,.15,.1,.05,0,-.5,-.65,-3.7]];
const CFHR4_BOX = [[-.38,-.17,.28,-.77,.86],[-.17,.37,.81,-.71,1.85],[-.18,.08,.53,-.39,.68]];
const CFHR4_PTS = [[.88,.75,.1,0,-.2,-.3,-.35,-.8],[1.85,1.1,1.05,.95,.8,.75,.7,.6,.5,.45,.4,.35,.3,.25,.2,.1,.05,0,-.05,-.1,-.15,-.2,-.45,-.48,-.52,-.55,-.7,.65,.15],[.68,.62,.5,.45,.1,.05,0,-.05,-.25,-.32,-.4]];
const CFHR5_BOX = [[-.66,-.41,-.2,-1.19,-.03],[.22,.45,.83,-.6,1.34],[.28,.56,.7,.22,.84]];
const CFHR5_PTS = [[-.02,-.03,-.25,-.4,-.45,-.5,-.65,-1.2],[1.34,1.25,1.2,1.1,1,.95,.8,.7,.65,.55,.5,.48,.45,.4,.38,.35,.3,.28,.25,.2,.05,0,-.05,-.1,-.1,-.6,.75,.6,.42],[.84,.78,.75,.65,.55,.45,.38,.3,.22,-.62,-1.04]];

const BOX_PANELS = [
  {n:'C1QL2',s:'<.001',box:C1QL2_BOX,pts:C1QL2_PTS,L:975,R:1061,T:668,B:820,c:[1.5,678.8,-1,798.3],t:[1.5,1,.5,0,-.5,-1],d:1,tx:1017.7,ty:621,sx:1014,sy:642.3},
  {n:'C1RL',s:'.010',box:C1RL_BOX,pts:C1RL_PTS,L:1121.7,R:1207.7,T:668,B:820,c:[.5,687.8,-.5,814.9],t:[.5,.25,0,-.25,-.5],d:2,tx:1165,ty:621,sx:1165.7,sy:642.3},
  {n:'PTX3',s:'<.001',box:PTX3_BOX,pts:PTX3_PTS,L:971,R:1056.7,T:902,B:1040,c:[0,941.9,-2,1032.5],t:[0,-1,-2],d:0,tx:1014,ty:838,sx:1010,sy:861},
  {n:'FCN2',s:'.008',box:FCN2_BOX,pts:FCN2_PTS,L:1109,R:1194.7,T:902,B:1040,c:[.5,910.2,-1.5,1032.5],t:[.5,0,-.5,-1,-1.5],d:1,tx:1151.7,ty:838,sx:1149,sy:861},
  {n:'CR1',s:'<.001',box:CR1_BOX,pts:CR1_PTS,L:73.2,R:158.6,T:1478,B:1632,c:[1,1506.7,-1,1626.7],t:[1,.5,0,-.5,-1],d:1,tx:114.7,ty:1424,sx:115.9,sy:1446.7},
  {n:'CR2',s:'<.001',box:CR2_BOX,pts:CR2_PTS,L:219.9,R:305.7,T:1478,B:1632,c:[2,1484,-1,1591.7],t:[2,1,0,-1],d:0,tx:263,ty:1424,sx:263,sy:1446.7},
  {n:'VSIG4',s:'<.001',box:VSIG4_BOX,pts:VSIG4_PTS,L:367,R:452.7,T:1478,B:1632,c:[1,1502.3,-3,1616.7],t:[1,0,-1,-2,-3],d:0,tx:409,ty:1424,sx:410,sy:1446.7},
  {n:'CD93',s:'<.001',box:CD93_BOX,pts:CD93_PTS,L:514,R:600,T:1478,B:1632,c:[1,1482.7,-1,1622.3],t:[1,.5,0,-.5,-1],d:1,tx:556.7,ty:1424,sx:557.5,sy:1446.7},
  {n:'ITGAM',s:'.853',box:ITGAM_BOX,pts:ITGAM_PTS,L:73.2,R:158.6,T:1712,B:1862,c:[1,1718.3,-.5,1830],t:[1,.5,0,-.5],d:1,tx:115.5,ty:1656.7,sx:112.7,sy:1677.7},
  {n:'ITGAX',s:'.685',box:ITGAX_BOX,pts:ITGAX_PTS,L:219.9,R:305.7,T:1712,B:1862,c:[3,1731.3,-1,1853.3],t:[3,2,1,0,-1],d:0,tx:263,ty:1656.7,sx:259.4,sy:1677.7},
  {n:'ITGB2',s:'.437',box:ITGB2_BOX,pts:ITGB2_PTS,L:367,R:452.7,T:1712,B:1862,c:[.5,1728.3,-1,1859.3],t:[.5,0,-.5,-1],d:1,tx:410,ty:1656.7,sx:407.3,sy:1677.7},
  {n:'CD46',s:'.382',box:CD46_BOX,pts:CD46_PTS,L:691.1,R:785,T:1478,B:1632,c:[.5,1507.7,-.5,1596.7],t:[.5,0,-.5],d:1,tx:737,ty:1424,sx:734.3,sy:1442.7},
  {n:'CD55',s:'.907',box:CD55_BOX,pts:CD55_PTS,L:838,R:932,T:1478,B:1632,c:[1,1482.3,-.5,1621.3],t:[1,.5,0,-.5],d:1,tx:884.4,ty:1424,sx:881.3,sy:1442.7},
  {n:'CD59',s:'.007',box:CD59_BOX,pts:CD59_PTS,L:985,R:1079,T:1478,B:1632,c:[1,1498.3,-.5,1600.7],t:[1,.5,0,-.5],d:1,tx:1031.8,ty:1424,sx:1028.6,sy:1442.7},
  {n:'CLU',s:'.204',box:CLU_BOX,pts:CLU_PTS,L:1132,R:1226,T:1478,B:1632,c:[3,1486,-1,1617.3],t:[3,2,1,0,-1],d:0,tx:1178.7,ty:1424,sx:1175.2,sy:1442.7},
  {n:'CPB2',s:'.282',box:CPB2_BOX,pts:CPB2_PTS,L:691.1,R:785,T:1712,B:1862,c:[1,1719.3,-1,1859.3],t:[1,.5,0,-.5,-1],d:1,tx:737,ty:1660.7,sx:738.3,sy:1680.7},
  {n:'CFHR2',s:'.121',box:CFHR2_BOX,pts:CFHR2_PTS,L:838,R:932,T:1712,B:1862,c:[1,1730.3,-3,1841.7],t:[1,0,-1,-2,-3],d:0,tx:884.4,ty:1660.7,sx:885.2,sy:1680.7},
  {n:'CFHR4',s:'.310',box:CFHR4_BOX,pts:CFHR4_PTS,L:985,R:1079,T:1712,B:1862,c:[1,1770,0,1822.7],t:[1,0],d:0,tx:1031.8,ty:1660.7,sx:1032.6,sy:1680.7},
  {n:'CFHR5',s:'<.001',box:CFHR5_BOX,pts:CFHR5_PTS,L:1132,R:1226,T:1712,B:1862,c:[1,1743.3,-1,1850],t:[1,.5,0,-.5,-1],d:1,tx:1178.7,ty:1660.7,sx:1179.1,sy:1680.7},
];
const NPX_LABELS = [[930,745],[936.7,971.5],[26.9,1554],[27.7,1781],[649.5,1543.3],[648.3,1785]];
const BRACKETS = [
  {l:'.10',tx:1034.3,ty:658.2,x1:1020,x2:1050,y:666.4},
  {l:'.06',tx:1167.7,ty:878.2,x1:1151.7,x2:1181.7,y:886.1},
  {l:'.11',tx:424.3,ty:1463.3,x1:409,x2:439,y:1471.3},
];

/* ---------- panel f ---------- */
const F1_NAMES = ['C2','APCS','PLTP','NTproBNP','C5','CXCL10','SERPINC1','TNFSF13','XPNPEP2','SCN2A'];
const F1_RS = [.562,.539,-.534,-.495,.477,-.464,.462,-.456,-.452,-.449];
const F1_BOLD = ['C2','C5'];
const F2_NAMES = ['MBL2','CD300LF','ADGRV1','PLA2G1B','SERPINI2','MXRA8','ATP1B1','PNLIPRP1','PSCA','SOWAHA'];
const F2_RS = [.808,-.643,.632,.631,.618,-.577,.564,.561,.561,.561];
const F2_BOLD = ['MBL2'];
const F3_NAMES = ['SERPINA7','APCS','CFP','FETUB','STAT2','PRKD2','GNE','SERPING1','FCGR3B','AKT2'];
const F3_RS = [.572,.547,.522,.507,.503,.485,.481,.476,.47,.468];
const F3_BOLD = ['CFP'];

/* ---------- plugins ---------- */
const shapeFill = {
  id: 'shapeFill',
  beforeDatasetDraw(chart: any, args: any) {
    const ds = chart.data.datasets[args.index];
    if (!ds.shapeColor) return;
    const line = args.meta.dataset;
    const ctx = chart.ctx;
    line.updateControlPoints(chart.chartArea, 'x');
    ctx.save();
    ctx.beginPath();
    line.path(ctx);
    ctx.closePath();
    ctx.fillStyle = ds.shapeColor;
    ctx.fill();
    ctx.restore();
  },
};
const barValues = {
  id: 'barValues',
  afterDatasetsDraw(chart: any) {
    const ds = chart.data.datasets[0];
    const meta = chart.getDatasetMeta(0);
    const ctx = chart.ctx;
    ctx.save();
    ctx.font = '13.5px ' + FONT;
    ctx.fillStyle = '#333';
    ctx.textAlign = 'right';
    ctx.textBaseline = 'middle';
    meta.data.forEach((b: any, i: number) => {
      const v = ds.signed[i];
      const txt = (v < 0 ? '-' : '') + Math.abs(v).toFixed(3).replace(/^0/, '');
      ctx.fillText(txt, b.x - 6, b.y);
    });
    ctx.restore();
  },
};

/* ---------- builders ---------- */
const toXY = (a: number[][]) => a.map(([x, y]) => ({ x, y }));
const poly = (pts: number[][], fill: any, stroke: string, sw: number, order: number, tension = 0) => ({
  data: toXY(pts), showLine: true, pointRadius: 0, pointHoverRadius: 0, borderColor: stroke, borderWidth: sw, shapeColor: fill, tension, order, clip: false, capBezierPoints: false, borderJoinStyle: 'miter', borderCapStyle: 'butt',
});
const dots = (pts: number[][], color: string, r: number, order: number, ring?: string) => ({
  data: toXY(pts), showLine: false, pointRadius: r, pointBackgroundColor: color, pointBorderWidth: ring ? 1 : 0, pointBorderColor: ring || color, order, clip: false,
});
const calRange = (c: number[], pLow: number, pHigh: number) => {
  const m = (c[2] - c[0]) / (c[3] - c[1]);
  return [c[0] + (pLow - c[1]) * m, c[0] + (pHigh - c[1]) * m];
};
const minus = (s: string) => s.replace('-', '−');
const num = (d: number) => (v: any) => minus(Number(v).toFixed(d));
const SUP: any = { '0':'⁰','1':'¹','2':'²','3':'³','4':'⁴','5':'⁵','6':'⁶','7':'⁷','8':'⁸','9':'⁹','.':'·','-':'⁻' };
const pow2 = (v: any) => '2' + String(v).split('').map((c) => SUP[c]).join('');
const zeroPad = (s: any) => { s.paddingTop = 0; s.paddingBottom = 0; s.paddingLeft = 0; s.paddingRight = 0; };

function panel(p: any) {
  const tM = p.tM ?? 12, rM = p.rM ?? 18, yW = p.yW ?? 44, xH = p.xH ?? 14;
  const w = Math.ceil(p.R - p.L + yW + rM), h = Math.ceil(p.B - p.T + tM + xH);
  const [ymin, ymax] = calRange(p.yc, p.B, p.T);
  const [xmin, xmax] = p.xc ? calRange(p.xc, p.L, p.R) : p.xr;
  const xShow = !!p.xt;
  const xScale: any = {
    type: 'linear', min: xmin, max: xmax, display: xShow,
    afterBuildTicks: (s: any) => { if (p.xt) s.ticks = p.xt.map((value: number) => ({ value })); },
    afterFit: (s: any) => { s.height = xH; zeroPad(s); },
    ticks: { autoSkip: false, maxRotation: 0, minRotation: 0, color: p.xColor || LIGHT, font: { size: p.xSize || 12, family: FONT }, padding: p.xPad ?? 2, callback: p.xf },
    grid: p.xMark ? { drawOnChartArea: false, drawTicks: true, tickLength: 3, tickColor: '#444', tickWidth: 2, color: '#444' } : { display: false, drawTicks: false },
    border: p.axisLine ? { display: true, color: '#c8c8c8', width: 2.5 } : { display: false },
  };
  const yScale: any = {
    type: 'linear', min: ymin, max: ymax,
    afterBuildTicks: (s: any) => { s.ticks = p.yt.map((value: number) => ({ value })); },
    afterFit: (s: any) => { s.width = yW; zeroPad(s); },
    ticks: { autoSkip: false, color: p.yColor || TICK, font: { size: p.ySize || 14, family: FONT }, padding: p.yPad ?? 8, callback: p.yf },
    grid: p.yMark ? { drawOnChartArea: false, drawTicks: true, tickLength: 3, tickColor: '#444', tickWidth: 2, color: '#444' }
      : p.axisLine ? { display: false, drawTicks: false } : { color: GRID, lineWidth: 2.5, drawTicks: false },
    border: p.axisLine ? { display: true, color: '#c8c8c8', width: 2.5 } : { display: false },
  };
  return {
    x: p.L - yW, y: p.T - tM, w, h,
    config: {
      type: 'scatter',
      data: { datasets: p.datasets },
      options: {
        responsive: false, animation: false, devicePixelRatio: 1,
        layout: { autoPadding: false, padding: { top: tM, right: w - (p.R - p.L) - yW, left: 0, bottom: xShow ? 0 : xH } },
        plugins: { legend: { display: false }, tooltip: { enabled: false } },
        scales: { x: xScale, y: yScale },
      },
      plugins: [shapeFill],
    },
  };
}

const violin = (c: number, out: number[][], fill: string) => {
  const left = out.map(([v, hw]) => [c - hw, v]);
  const right = out.slice().reverse().map(([v, hw]) => [c + hw, v]);
  return poly([...left, ...right, left[0]], fill, '#9a9a9a', 2.5, 3, .25);
};
const VF_H = 'rgba(190,190,190,.42)';
const VF_C = 'rgba(200,30,60,.55)';
const violinDatasets = (hv: number[][], cv: number[][], hp: number[][], cp: number[][], med: number[]) => [
  dots(hp, 'rgba(205,205,205,.85)', 3.6, 0),
  dots(cp, 'rgba(195,0,35,.72)', 3.6, 0),
  poly([[1 - med[1], med[0]], [1 + med[1], med[0]]], null, '#9a9a9a', 2.5, 2),
  poly([[2 - med[3], med[2]], [2 + med[3], med[2]]], null, '#9a9a9a', 2.5, 2),
  violin(1, hv, VF_H),
  violin(2, cv, VF_C),
];
const A_PANELS = [
  panel({ L: 54.6, R: 199.7, T: 55, B: 236, xr: [.41, 2.6], yc: [1.5, 60.3, 0, 234.3], xt: [1, 2], xf: (v: any) => A_CATS[v - 1], xMark: true, xColor: TICK, xSize: 14, xPad: 2, xH: 24, yt: [1.5, 1, .5, 0], yf: num(1), ySize: 12.5, yPad: 3, datasets: violinDatasets(A1_HV, A1_CV, A1_H, A1_C, A_MEDIANS[0]) }),
  panel({ L: 239, R: 383.5, T: 55, B: 236, xr: [.41, 2.6], yc: [1.5, 75.7, 0, 229.3], xt: [1, 2], xf: (v: any) => A_CATS[v - 1], xMark: true, xColor: TICK, xSize: 14, xPad: 2, xH: 24, yt: [1.5, 1, .5, 0], yf: num(1), ySize: 12.5, yPad: 3, datasets: violinDatasets(A2_HV, A2_CV, A2_H, A2_C, A_MEDIANS[1]) }),
  panel({ L: 422.3, R: 567.4, T: 55, B: 236, xr: [.41, 2.6], yc: [2, 107.3, 0, 233.7], xt: [1, 2], xf: (v: any) => A_CATS[v - 1], xMark: true, xColor: TICK, xSize: 14, xPad: 2, xH: 24, yt: [2, 1, 0], yf: num(0), ySize: 12.5, yPad: 3, datasets: violinDatasets(A3_HV, A3_CV, A3_H, A3_C, A_MEDIANS[2]) }),
];

const bDatasets = (s: number[][], h: number[][], n: number[][], line: number[][], up: number[][], lo: number[][]) => [
  poly(line, null, '#aeaeae', 4.5, 0, .35),
  poly([...up, ...lo.slice().reverse()], 'rgba(205,205,205,.42)', 'transparent', 0, 1, 0),
  dots(h, '#cacaca', 4.6, 2),
  dots(s, '#f6c08e', 4.6, 3),
  dots(n, '#cf6d6d', 4.6, 2),
];
const bCommon = { xMark: true, yMark: true, xf: num(1), yf: num(1), xColor: LIGHT, yColor: LIGHT, xSize: 15, ySize: 15, xPad: 2, yPad: 2, xH: 22 };
const B_PANELS = [
  panel({ ...bCommon, L: 625, R: 788, T: 45, B: 215, xc: [0, 629.4, 2, 756.1], yc: [1.5, 62.3, 0, 195.3], xt: [0, 1, 2], yt: [1.5, 1, .5, 0], datasets: bDatasets(B1_S, B1_H, B1_N, B1_LINE, B1_UP, B1_LO) }),
  panel({ ...bCommon, L: 840, R: 998, T: 45, B: 215, xc: [0, 844.5, 2, 971.6], yc: [1.5, 62.3, 0, 195.3], xt: [0, 1, 2], yt: [1.5, 1, .5, 0], datasets: bDatasets(B2_S, B2_H, B2_N, B2_LINE, B2_UP, B2_LO) }),
  panel({ ...bCommon, L: 1055.7, R: 1220, T: 45, B: 215, xc: [0, 1060, 1.5, 1218.6], yc: [1.5, 59.3, -.5, 212.7], xt: [0, .5, 1, 1.5], yt: [1.5, 1, .5, 0, -.5], datasets: bDatasets(B3_S, B3_H, B3_N, B3_LINE, B3_UP, B3_LO) }),
];

const C_CHARTS = C_PANELS.map((c) => {
  const band = (C_BANDS as any)[c.k];
  const up = band.map((r: number[]) => [r[0], r[2]]);
  const lo = band.map((r: number[]) => [r[0], r[1]]).reverse();
  return panel({
    L: c.L, R: c.R, T: c.T, B: c.B, xc: c.xc, yc: c.yc, xt: c.xt, yt: c.yt, xf: num(c.xd || 0), yf: pow2,
    axisLine: true, xColor: LIGHT, yColor: LIGHT, xSize: 12.5, ySize: 15, xPad: 1, yPad: 3, yW: 34, xH: 18,
    datasets: [
      poly((C_LINES as any)[c.k], null, '#a30f0f', 5.5, 0),
      poly([...up, ...lo], 'rgba(235,90,90,.38)', 'transparent', 0, 1),
      dots(c.pts, '#000', 3.5, 2),
    ],
  });
});

const GROUP_FILL = ['rgba(226,226,226,.95)', 'rgba(255,193,60,.85)', 'rgba(60,100,125,.82)'];
const GROUP_DOT = ['rgba(190,190,190,.55)', 'rgba(255,186,20,.6)', 'rgba(15,70,100,.5)'];
const GROUP_RING = ['rgba(170,170,170,.6)', 'rgba(250,175,10,.8)', 'rgba(15,60,90,.7)'];
const JITS = [JIT_H, JIT_N, JIT_C];
const DARK = '#333333';
const BOX_CHARTS = BOX_PANELS.map((b) => {
  const ds: any[] = [];
  b.box.forEach((st, g) => {
    const [q1, med, q3, lo, hi] = st;
    const c = g + 1;
    ds.push(dots(b.pts[g].map((v, i) => [c + JITS[g][i % JITS[g].length], v]), GROUP_DOT[g], 3.2, 0, GROUP_RING[g]));
    ds.push(poly([[c - .4, med], [c + .4, med]], null, DARK, 4, 1));
    ds.push(poly([[c - .4, q1], [c + .4, q1], [c + .4, q3], [c - .4, q3], [c - .4, q1]], GROUP_FILL[g], DARK, 3, 2));
    ds.push(poly([[c, lo], [c, q1]], null, DARK, 3, 3));
    ds.push(poly([[c, q3], [c, hi]], null, DARK, 3, 3));
  });
  return panel({ L: b.L, R: b.R, T: b.T, B: b.B, xr: [.4, 3.6], yc: b.c, yt: b.t, yf: num(b.d), ySize: 14, yPad: 8, xH: 6, rM: 6, datasets: ds });
});

const barChart = (L: number, R: number, names: string[], rs: number[], bold: string[]) => {
  const yW = 92, T = 1155, B = 1386;
  const w = Math.ceil(R - L + yW + 4), h = B - T + 6;
  return {
    x: L - yW, y: T - 3, w, h,
    config: {
      type: 'bar',
      data: {
        labels: names,
        datasets: [{
          data: rs.map((v) => Math.abs(v)), signed: rs,
          backgroundColor: rs.map((v) => (v < 0 ? '#e86176' : '#61b5d5')),
          barPercentage: .91, categoryPercentage: 1, borderWidth: 0,
        }],
      },
      options: {
        indexAxis: 'y', responsive: false, animation: false, devicePixelRatio: 1,
        layout: { autoPadding: false, padding: { top: 3, bottom: 3, right: w - (R - L) - yW, left: 0 } },
        plugins: { legend: { display: false }, tooltip: { enabled: false } },
        scales: {
          x: { display: false, min: 0, max: Math.max(...rs.map(Math.abs)) },
          y: {
            afterFit: (s: any) => { s.width = yW; zeroPad(s); },
            grid: { display: false, drawTicks: false }, border: { display: false },
            ticks: { autoSkip: false, padding: 5, color: '#555', font: (ctx: any) => ({ size: 14.8, family: FONT, weight: bold.includes(names[ctx.index]) ? 'bold' : 'normal' }) },
          },
        },
      },
      plugins: [barValues],
    },
  };
};
const F_CHARTS = [
  barChart(96.1, 390.9, F1_NAMES, F1_RS, F1_BOLD),
  barChart(480.7, 815.6, F2_NAMES, F2_RS, F2_BOLD),
  barChart(916.5, 1216.7, F3_NAMES, F3_RS, F3_BOLD),
];

const ALL_CHARTS = [...A_PANELS, ...B_PANELS, ...C_CHARTS, ...BOX_CHARTS, ...F_CHARTS];

/* ---------- components ---------- */
function ChartBox({ c }: any) {
  const ref = useRef<HTMLCanvasElement>(null);
  useEffect(() => {
    const chart = new Chart(ref.current as any, c.config);
    return () => chart.destroy();
  }, []);
  return <canvas ref={ref} width={c.w} height={c.h} style={{ position: 'absolute', left: c.x, top: c.y, width: c.w, height: c.h }} />;
}
function T({ x, y, s, c = '#000', a = 'c', r = 0, children, style }: any) {
  const tx = a === 'l' ? '0' : a === 'r' ? '-100%' : '-50%';
  return (
    <div style={{ position: 'absolute', left: x, top: y, fontSize: s, color: c, lineHeight: 1, whiteSpace: 'pre', transform: `translate(${tx},-50%) rotate(${r}deg)`, ...style }}>{children}</div>
  );
}
function FlowBox({ x1, y1, x2, y2, border, bg = '#fff', size = 13.8, align = 'center', bw = 2, children }: any) {
  return (
    <div style={{ position: 'absolute', left: x1, top: y1, width: x2 - x1, height: y2 - y1, boxSizing: 'border-box', border: `${bw}px solid ${border}`, background: bg, display: 'flex', flexDirection: 'column', justifyContent: 'center', alignItems: align === 'center' ? 'center' : 'flex-start', textAlign: align, padding: align === 'center' ? 0 : '0 0 0 6px', fontSize: size, lineHeight: '16.8px', color: '#222', whiteSpace: 'pre' }}>{children}</div>
  );
}
function Arrow({ x1, y1, x2, y2, color, w = 2, head = 5 }: any) {
  const dx = Math.sign(x2 - x1), dy = Math.sign(y2 - y1);
  const bx = x2 - dx * head * 1.5, by = y2 - dy * head * 1.5;
  const pts = `${x2},${y2} ${bx - dy * head},${by - dx * head} ${bx + dy * head},${by + dx * head}`;
  return (<g><line x1={x1} y1={y1} x2={bx} y2={by} stroke={color} strokeWidth={w} /><polygon points={pts} fill={color} /></g>);
}
function Seg({ x1, y1, x2, y2, color, w = 2 }: any) {
  return <line x1={x1} y1={y1} x2={x2} y2={y2} stroke={color} strokeWidth={w} />;
}
function Key({ x, y, fill, dot }: any) {
  return (
    <div style={{ position: 'absolute', left: x - 14, top: y - 10, width: 28, height: 20 }}>
      <div style={{ position: 'absolute', left: 12.5, top: -5, width: 3, height: 30, background: DARK }} />
      <div style={{ position: 'absolute', left: 0, top: 0, width: 28, height: 20, boxSizing: 'border-box', border: `3px solid ${DARK}`, background: fill }} />
      <div style={{ position: 'absolute', left: 0, top: 8.5, width: 28, height: 3, background: DARK }} />
      <div style={{ position: 'absolute', left: 10.5, top: 6.5, width: 7, height: 7, borderRadius: 4, background: dot }} />
    </div>
  );
}
function Dot({ x, y, c }: any) {
  return <div style={{ position: 'absolute', left: x - 5, top: y - 5, width: 10, height: 10, borderRadius: 5, background: c }} />;
}

const GREY = '#7f7f7f', LBLUE = '#b4c7e7', ORANGE = '#ed7d31', BLUE = '#4472c4';

export default function App() {
  return (
    <div style={{ position: 'absolute', left: 0, top: 0, width: 1236, height: 1863, overflow: 'hidden', background: '#fff', fontFamily: FONT }}>
      {ALL_CHARTS.map((c: any, i: number) => <ChartBox key={i} c={c} />)}

      {/* panel letters */}
      {[['a',18,17],['b',572,18],['c',17.8,275],['d',18.6,604],['e',920.7,605],['f',13.4,1128],['g',17.8,1416],['h',642.8,1412]].map(([l, x, y]: any) => <T key={l} x={x} y={y} s={29}>{l}</T>)}

      {/* a */}
      <T x={127} y={21.7} s={20}>Classical</T><T x={310.4} y={21.7} s={20}>Lectin</T><T x={495} y={21.7} s={20}>Alternative</T>
      <T x={126.5} y={42.7} s={15} c="#555"><i>P</i> = .052</T><T x={310} y={42.7} s={15} c="#555"><i>P</i> = .217</T><T x={494} y={42.7} s={15} c="#555"><i>P</i> = .888</T>
      <T x={24.5} y={143} s={17.5} c="#666" r={-90}>normalized O.D.</T>

      {/* b */}
      <Dot x={655.7} y={17} c="#cacaca" /><T x={683} y={18} s={18.5} c="#666" a="l">healthy</T>
      <Dot x={773} y={17} c="#f6c08e" /><T x={800.5} y={18} s={18.5} c="#666" a="l">COVID-19 survivor</T>
      <Dot x={987.6} y={17} c="#cf6d6d" /><T x={1014.7} y={18} s={18.5} c="#666" a="l">COVID-19 non-survivor</T>
      <T x={588} y={135} s={21} r={-90}>Classical</T><T x={803.5} y={135} s={21} r={-90}>Lectin</T><T x={1019} y={135} s={21} r={-90}>Lectin</T>
      <T x={708.7} y={245.7} s={21.5}>Alternative</T><T x={924} y={245.7} s={21.5}>Alternative</T><T x={1139.7} y={245.7} s={21.5}>Classical</T>

      {/* c */}
      {C_PANELS.map((c, i) => {
        const row2 = i >= 8;
        return (
          <React.Fragment key={c.k}>
            <T x={c.rx} y={(row2 ? 450.3 : 291.7) + (c.k === 'VWF' ? 2 : 0)} s={10.5} c="#111" a="l"><i>R</i> = {c.r}, <i>P</i> {c.p}</T>
            <T x={c.yx} y={row2 ? 500 : 340} s={12.3} c="#333" r={-90}>{c.yl}</T>
            <T x={c.xx} y={row2 ? 582.7 : 425} s={11.8} c="#333">{c.xl}</T>
          </React.Fragment>
        );
      })}

      {/* d */}
      <FlowBox x1={330.2} y1={607.2} x2={580.4} y2={644.4} border={GREY}>{'84 participants assessed for elegibility\nin the ZILUCOV trial'}</FlowBox>
      <FlowBox x1={620.4} y1={630.6} x2={896.7} y2={685.7} border={GREY} align="left">{'Excluded (n=3)\no   Did not meet inclusion criteria (n=2)\no   Declined to participate (n=1)'}</FlowBox>
      <FlowBox x1={330.8} y1={677.8} x2={580.4} y2={707.1} border={GREY}>81 patients randomized in ZILUCOV</FlowBox>
      <FlowBox x1={197.9} y1={748.7} x2={456.2} y2={794.2} border={BLUE} bg={LBLUE} size={12.7}><div>Allocated to <b>zilucoplan</b> +</div><div>prophylactic antibiotics (n=55)</div></FlowBox>
      <FlowBox x1={467.2} y1={748.7} x2={722.6} y2={794.2} border={ORANGE} bg="#f8cbad" size={12.7}><div>Allocated to</div><div><b>prophylactic antibiotics</b> (n=26)</div></FlowBox>
      <FlowBox x1={15.7} y1={800} x2={293.7} y2={857.6} border={LBLUE} align="left">{'Did not receive allocated intervention due\nto withdrawal of consent (n=1)'}</FlowBox>
      <FlowBox x1={620.4} y1={800} x2={896.7} y2={858.6} border={ORANGE} align="left">{'Did not receive allocated intervention due\nto clinical error (n=1)\nDid not meet inclusion criteria (n=1)'}</FlowBox>
      <FlowBox x1={199} y1={864.1} x2={456.2} y2={894.4} border={LBLUE}>Received allocated intervention (n=54)</FlowBox>
      <FlowBox x1={467.2} y1={864.1} x2={722.6} y2={894.4} border={ORANGE}>Received allocated intervention (n=24)</FlowBox>
      <FlowBox x1={15.7} y1={902.7} x2={293.7} y2={966} border={LBLUE} align="left">{'Excluded patients without unthawed serum\nsamples from day 1 and day 6 or with\nmajor protocol violations (n=10)'}</FlowBox>
      <FlowBox x1={620.4} y1={903.4} x2={896.7} y2={967.1} border={ORANGE} align="left">{'Excluded patients without unthawed serum\nsamples from day 1 and day 6 or with\nmajor protocol violations (n=5)'}</FlowBox>
      <FlowBox x1={199} y1={973.9} x2={456.2} y2={1000.1} border={LBLUE}>Included for propensity matching (n=44)</FlowBox>
      <FlowBox x1={467.2} y1={973.9} x2={722.6} y2={1000.1} border={ORANGE} bg="#f8cbad" size={12.6}>Included for proteomic analysis (n=19)</FlowBox>
      <FlowBox x1={15.7} y1={1009.4} x2={293.7} y2={1080.4} border={LBLUE} align="left">
        <div>Excluded based on matching algorithm</div>
        <div><i>(age, ethnicity, BMI, history of diabetes</i></div>
        <div><i>mellitus, baseline ordinal scale, baseline</i></div>
        <div><i>SOFA score, baseline PaO<sub style={{ fontSize: 8, lineHeight: 0 }}>2</sub>/FiO<sub style={{ fontSize: 8, lineHeight: 0 }}>2</sub>) (n = 23)</i></div>
      </FlowBox>
      <FlowBox x1={197.9} y1={1088.3} x2={456.2} y2={1115.8} border={BLUE} bg={LBLUE} size={12.6}>Included for proteomic analysis (n=21)</FlowBox>
      <FlowBox x1={467.2} y1={1088.3} x2={722.6} y2={1115.8} border="#222" bg="#d9d9d9" size={12.6}>Included 8 health controls as reference</FlowBox>

      <svg width={1236} height={1863} style={{ position: 'absolute', left: 0, top: 0, pointerEvents: 'none' }}>
        <Arrow x1={455.6} y1={644.4} x2={455.6} y2={677.8} color={GREY} />
        <Arrow x1={455.6} y1={658.2} x2={620.4} y2={658.2} color={GREY} />
        <Seg x1={455.6} y1={707.1} x2={455.6} y2={725.3} color={GREY} />
        <Seg x1={323.3} y1={725.3} x2={593.2} y2={725.3} color={GREY} />
        <Arrow x1={323.3} y1={725.3} x2={323.3} y2={748.7} color={GREY} />
        <Arrow x1={593.2} y1={725.3} x2={593.2} y2={748.7} color={GREY} />
        <Arrow x1={323.3} y1={794.2} x2={323.3} y2={864.1} color={LBLUE} />
        <Arrow x1={323.3} y1={829.3} x2={293.7} y2={829.3} color={LBLUE} />
        <Arrow x1={323.3} y1={894.4} x2={323.3} y2={973.9} color={LBLUE} />
        <Arrow x1={323.3} y1={934.4} x2={293.7} y2={934.4} color={LBLUE} />
        <Arrow x1={323.3} y1={1000.1} x2={323.3} y2={1088.3} color={LBLUE} />
        <Arrow x1={323.3} y1={1040.4} x2={293.7} y2={1040.4} color={LBLUE} />
        <Arrow x1={591.4} y1={794.2} x2={591.4} y2={864.1} color={ORANGE} />
        <Arrow x1={591.4} y1={829.3} x2={620.4} y2={829.3} color={ORANGE} />
        <Arrow x1={591.4} y1={894.4} x2={591.4} y2={973.9} color={ORANGE} />
        <Arrow x1={591.4} y1={935} x2={620.4} y2={935} color={ORANGE} />
        {[[311, 390], [737, 815.6], [1137, 1216.7]].map(([a, b], i) => <Arrow key={i} x1={a} y1={1398.3} x2={b} y2={1398.3} color="#6a6a6a" w={2} head={4.5} />)}
        {BRACKETS.map((b, i) => <line key={i} x1={b.x1} x2={b.x2} y1={b.y} y2={b.y} stroke="#888" strokeWidth={1} />)}
      </svg>

      {/* e / g / h titles */}
      {BOX_PANELS.map((b) => (
        <React.Fragment key={b.n}>
          <T x={b.tx} y={b.ty} s={23.5}>{b.n}</T>
          <T x={b.sx} y={b.sy} s={15.5} c="#666">{b.s}</T>
        </React.Fragment>
      ))}
      {NPX_LABELS.map(([x, y], i) => <T key={i} x={x} y={y} s={17} c="#666" r={-90}>NPX</T>)}
      {BRACKETS.map((b, i) => <T key={i} x={b.tx} y={b.ty} s={13.5} c="#888">{b.l}</T>)}

      {/* e legend */}
      <Key x={830.8} y={1086} fill="#e2e2e2" dot="rgba(180,180,180,.8)" />
      <T x={892.6} y={1078} s={17.5} c="#666">healthy</T><T x={892.6} y={1095} s={17.5} c="#666">(n = 8)</T>
      <Key x={956.7} y={1086.6} fill="#ffc83f" dot="rgba(245,170,10,.9)" />
      <T x={1020} y={1068.7} s={17.5} c="#666">non-critical</T><T x={1020} y={1085.9} s={17.5} c="#666">COVID-19</T><T x={1020} y={1103} s={17.5} c="#666">(n = 29)</T>
      <Key x={1096.7} y={1086.6} fill="#55788c" dot="rgba(15,70,100,.8)" />
      <T x={1159.5} y={1068.7} s={17.5} c="#666">critical</T><T x={1159.5} y={1085.9} s={17.5} c="#666">COVID-19</T><T x={1159.5} y={1103} s={17.5} c="#666">(n = 11)</T>

      {/* f */}
      <T x={236.4} y={1138.3} s={23.5} c="#666">Classical</T><T x={637} y={1138.3} s={23.5} c="#666">Lectin</T><T x={1062} y={1138.3} s={23.5} c="#666">Alternative</T>
      {[291.6, 721, 1119].map((x) => <T key={x} x={x} y={1398} s={16} c="#666">|r<sub style={{ fontSize: 11, lineHeight: 0 }}>S</sub>|</T>)}

      {/* notice */}
      <T x={314} y={8} s={21} a="l">It is made available under a</T>
      <T x={580.7} y={8} s={21.4} c="#0000ee" a="l">CC-BY-NC-ND 4.0 International license</T>
      <T x={961} y={8} s={21} a="l">.</T>
    </div>
  );
}
